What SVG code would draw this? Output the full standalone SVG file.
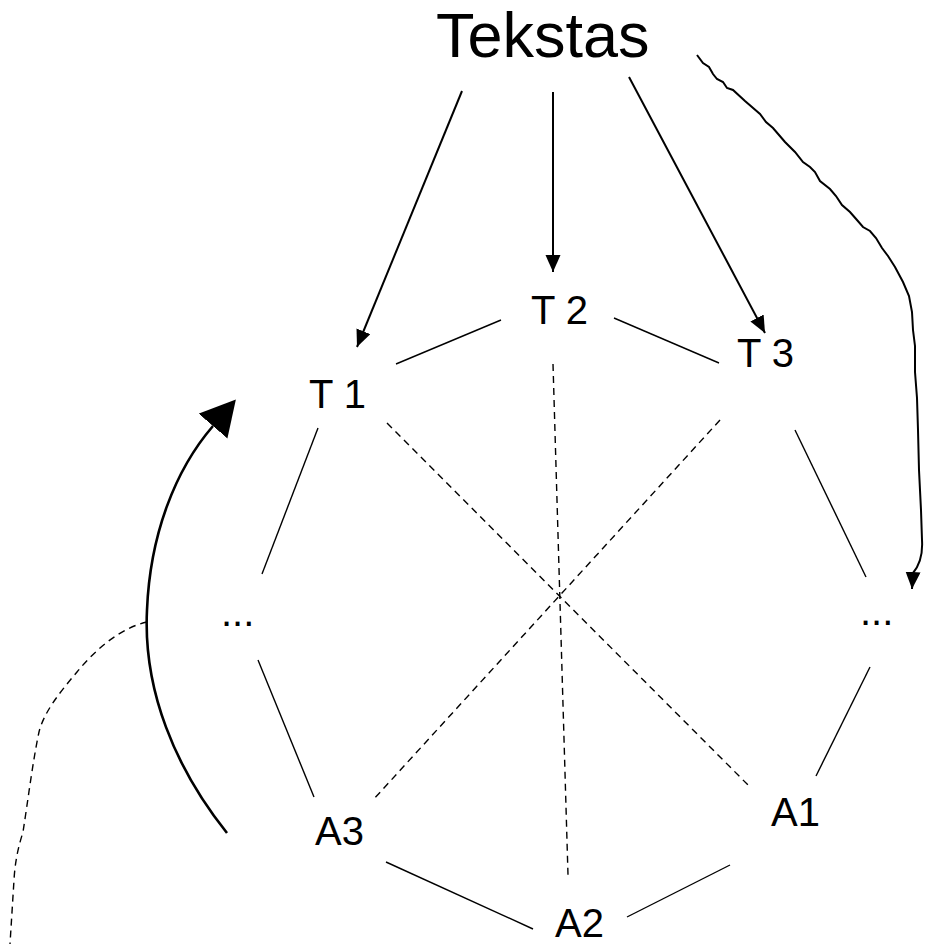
<svg xmlns="http://www.w3.org/2000/svg" width="932" height="944" viewBox="0 0 932 944">
<style>
  text { font-family: "Liberation Sans", Arial, sans-serif; fill: #000; }
  .lbl { font-size: 40px; }
  .title { font-size: 63px; }
  .edge { stroke: #000; stroke-width: 1.4; fill: none; }
  .dash { stroke: #000; stroke-width: 1.4; fill: none; stroke-dasharray: 7 5; }
  .arrow { stroke: #000; stroke-width: 2; fill: none; }
  .big { stroke: #000; stroke-width: 2.6; fill: none; }
</style>
<defs>
  <marker id="ah" markerUnits="userSpaceOnUse" markerWidth="18" markerHeight="16" refX="17" refY="7.5" orient="auto">
    <path d="M0,0 L17,7.5 L0,15 z" fill="#000"/>
  </marker>
  <marker id="ahBig" markerUnits="userSpaceOnUse" markerWidth="40" markerHeight="40" refX="0" refY="19" orient="auto">
    <path d="M0,0 L35,19 L0,38 z" fill="#000"/>
  </marker>
</defs>
<rect width="932" height="944" fill="#fff"/>

<g id="connectors">
  <line class="edge" x1="501" y1="320" x2="396" y2="364"/>
  <line class="edge" x1="614" y1="318" x2="719" y2="363"/>
  <line class="edge" x1="318" y1="428" x2="262" y2="574"/>
  <line class="edge" x1="258" y1="660" x2="314" y2="797"/>
  <line class="edge" x1="386" y1="862" x2="533" y2="929"/>
  <line class="edge" x1="627" y1="917" x2="730" y2="865"/>
  <line class="edge" x1="816" y1="776" x2="870" y2="667"/>
  <line class="edge" x1="795" y1="430" x2="866" y2="577"/>
  <line class="dash" x1="387" y1="423" x2="749" y2="786"/>
  <line class="dash" x1="720" y1="420" x2="373" y2="800"/>
  <line class="dash" x1="553" y1="364" x2="568" y2="875"/>
  <line class="arrow" x1="462" y1="91" x2="357" y2="347" marker-end="url(#ah)"/>
  <line class="arrow" x1="553" y1="92" x2="553" y2="272" marker-end="url(#ah)"/>
  <line class="arrow" x1="629" y1="77" x2="765" y2="333" marker-end="url(#ah)"/>
  <path class="arrow" marker-end="url(#ah)" d="M697,55 L703,63 L709,67 L713,74 L717,79 L723,82 L727,88 L733,90 L745,101 L760,114 L766,122 L773,128 L785,142 L795,152 L803,162 L810,167 L815,172 L820,181 L830,189 L836,196 L842,205 L850,212 L857,220 L863,227 L870,231 L876,238 L882,248 L888,256 L895,267 L903,282 L909,296 L912,312 L913,330 L915,346 L915,372 L917,398 L918,430 L919,470 L921,510 L922,540 C923,556 919,566 913,573 L912,589"/>
  <path class="big" marker-end="url(#ahBig)" d="M227,833 C175,768 143,690 147,610 C150,535 175,470 213,426"/>
  <path class="dash" d="M147,622 C120,628 95,650 77,672 C60,692 44,712 39,732 C33,760 28,800 23,832 C18,848 15,862 14,880 L10,944"/>
</g>

<g id="node-tekstas"><text class="title" x="436" y="57">Tekstas</text></g>
<g id="node-t1"><text class="lbl" x="309" y="408">T 1</text></g>
<g id="node-t2"><text class="lbl" x="531" y="324">T 2</text></g>
<g id="node-t3"><text class="lbl" x="737" y="367">T 3</text></g>
<g id="node-dots-left"><text class="lbl" x="221" y="626">...</text></g>
<g id="node-dots-right"><text class="lbl" x="860" y="625">...</text></g>
<g id="node-a3"><text class="lbl" x="315" y="845">A3</text></g>
<g id="node-a2"><text class="lbl" x="555" y="937">A2</text></g>
<g id="node-a1"><text class="lbl" x="771" y="826">A1</text></g>
</svg>
